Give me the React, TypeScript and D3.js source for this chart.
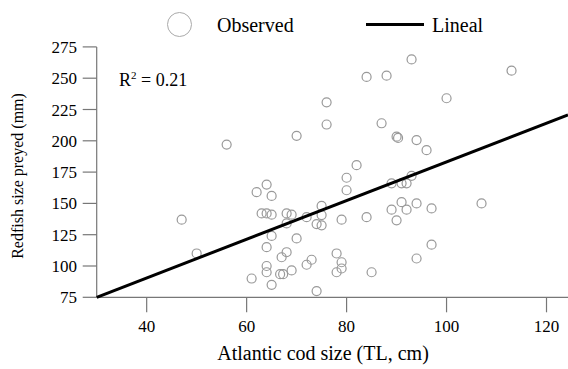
import * as d3 from 'd3';

const codSize = [
  47, 50, 56, 61, 62, 63, 64, 64, 64, 64, 64, 65, 65, 65, 65, 67, 66.7, 67.3, 68, 68,
  68, 69, 69, 70, 70, 72, 72, 73, 74, 74, 75, 75, 75, 76, 76, 78, 78, 79, 79, 79,
  80, 80, 82, 84, 84, 85, 87, 88, 89, 89, 90, 90.3, 90, 91, 91, 92, 92, 93, 93, 94,
  94, 94, 96, 97, 97, 100, 107, 113,
];
const redfishSize = [
  137, 110, 197, 90, 159, 142, 142, 165, 115, 100, 95, 141, 156, 124, 85, 107, 93.5, 93.5, 142, 134,
  111, 141, 96.5, 204, 122, 139, 101, 105, 133.5, 80, 148, 140.7, 132.5, 230.7, 213, 110, 95, 137, 103, 98,
  170.5, 160.5, 180.5, 251, 139, 95, 214, 252, 166, 145, 203.3, 202.3, 136.5, 166, 151, 166, 145, 265, 172, 200.6,
  150, 106, 192.5, 146, 117, 234, 150, 256,
];
const xTicks = [40, 60, 80, 100, 120];
const yTicks = [75, 100, 125, 150, 175, 200, 225, 250, 275];
const fitSlope = 1.544;
const fitIntercept = 28.7;
const rSquared = '0.21';

const W = 568;
const H = 369;
const FONT = '"Liberation Serif", "Times New Roman", serif';

export default function App() {
  const x = d3.scaleLinear().domain([30, 124.3]).range([96.7, 568]);
  const y = d3.scaleLinear().domain([75, 275]).range([297.3, 46.9]);
  const points = codSize.map((c, i) => ({ c, r: redfishSize[i] }));
  const fit = d3
    .line<number>()
    .x((d) => x(d))
    .y((d) => y(fitSlope * d + fitIntercept));
  const axisColor = '#777';

  return (
    <div style={{ position: 'absolute', left: 0, top: 0 }}>
      <svg width={W} height={H} style={{ display: 'block', fontFamily: FONT }}>
        <rect width={W} height={H} fill="#fff" />

        {/* legend */}
        <circle cx={179.5} cy={24.5} r={12} fill="none" stroke="#aaa" strokeWidth={1} />
        <text x={217} y={32} fontSize={20} fill="#000">Observed</text>
        <line x1={366} x2={424} y1={24.5} y2={24.5} stroke="#000" strokeWidth={3} />
        <text x={432} y={32} fontSize={20} fill="#000">Lineal</text>

        {/* y axis */}
        <line x1={x(30)} x2={x(30)} y1={y(75)} y2={y(275)} stroke={axisColor} strokeWidth={1.2} />
        {yTicks.map((t) => (
          <g key={t}>
            <line x1={x(30) - 14} x2={x(30)} y1={y(t)} y2={y(t)} stroke={axisColor} strokeWidth={1.2} />
            <text x={77} y={y(t) + 6} fontSize={17} textAnchor="end" fill="#000">{t}</text>
          </g>
        ))}

        {/* x axis */}
        <line x1={x(30)} x2={W} y1={y(75)} y2={y(75)} stroke={axisColor} strokeWidth={1.2} />
        {xTicks.map((t) => (
          <g key={t}>
            <line x1={x(t)} x2={x(t)} y1={y(75)} y2={y(75) + 15} stroke={axisColor} strokeWidth={1.2} />
            <text x={x(t)} y={332} fontSize={17} textAnchor="middle" fill="#000">{t}</text>
          </g>
        ))}

        <text x={323} y={360} fontSize={20} textAnchor="middle" fill="#000">Atlantic cod size (TL, cm)</text>
        <text
          transform={`translate(23,176) rotate(-90)`}
          fontSize={16}
          textAnchor="middle"
          fill="#000"
        >
          Redfish size preyed (mm)
        </text>

        <text x={119} y={86} fontSize={18} fill="#000">
          R<tspan fontSize={11} dy={-7}>2</tspan>
          <tspan dy={7}> = {rSquared}</tspan>
        </text>

        {points.map((p, i) => (
          <circle key={i} cx={x(p.c)} cy={y(p.r)} r={4.5} fill="none" stroke="#999" strokeWidth={1.2} />
        ))}

        <path d={fit([30, 124.3]) ?? ''} fill="none" stroke="#000" strokeWidth={3} />
      </svg>
    </div>
  );
}
